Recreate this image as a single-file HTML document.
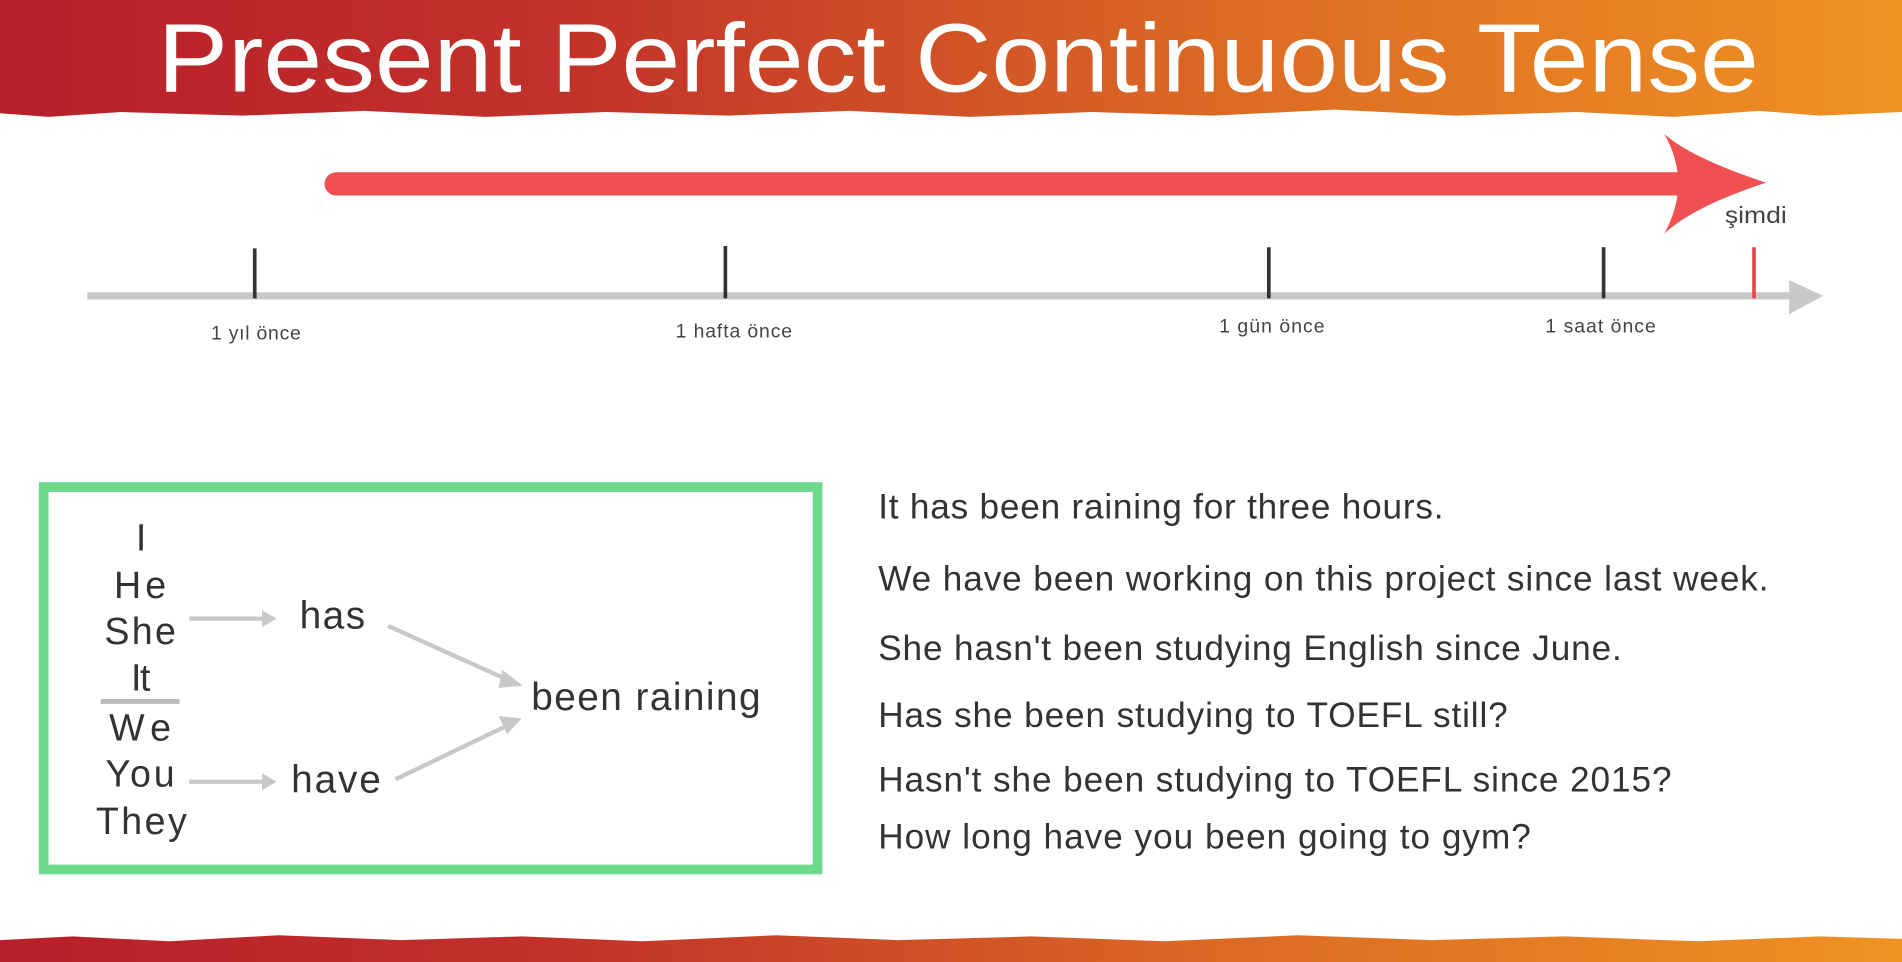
<!DOCTYPE html>
<html><head><meta charset="utf-8"><style>html,body{margin:0;padding:0;background:#fff;overflow:hidden}svg{display:block}</style></head>
<body>
<svg width="1902" height="962" viewBox="0 0 1568 790" preserveAspectRatio="none" xmlns="http://www.w3.org/2000/svg" font-family="Liberation Sans, sans-serif">
<defs>
<linearGradient id="g" x1="0" x2="1" y1="0" y2="0">
<stop offset="0" stop-color="#b81f2a"/><stop offset="0.3" stop-color="#c2322a"/><stop offset="0.65" stop-color="#dc6b24"/><stop offset="1" stop-color="#ef9222"/>
</linearGradient>
</defs>
<rect width="1568" height="790" fill="#fff"/>
<path d="M0 0H1568V92 L1500 95 1450 91 1380 96 1300 92 1200 95 1100 90 1000 95 900 92 800 96 700 91 600 95 500 92 400 96 300 91 200 95 100 92 40 96 0 93Z" fill="url(#g)"/>
<text x="130" y="75" font-size="80" fill="#fff" textLength="1320" lengthAdjust="spacingAndGlyphs">Present Perfect Continuous Tense</text>
<path d="M0 790V772 L60 769 140 773 230 768 330 772 430 769 530 773 640 768 740 772 850 769 960 773 1070 768 1180 772 1290 769 1400 773 1500 769 1568 771V790Z" fill="url(#g)"/>
<line x1="277" y1="151" x2="1385" y2="151" stroke="#ef5152" stroke-width="19" stroke-linecap="round"/>
<path d="M1372 110 Q1395 130 1456 150 Q1395 170 1372 192 Q1395 150 1372 110Z" fill="#ef5152"/>
<text x="1422" y="183" font-size="19" fill="#444" textLength="51" lengthAdjust="spacingAndGlyphs">şimdi</text>
<line x1="72" y1="243" x2="1478" y2="243" stroke="#c8c8c8" stroke-width="6"/>
<path d="M1475 230 L1503 243 1475 258Z" fill="#c8c8c8"/>
<g stroke="#333" stroke-width="3">
<line x1="210" y1="204" x2="210" y2="245"/><line x1="598" y1="202" x2="598" y2="245"/>
<line x1="1046" y1="203" x2="1046" y2="245"/><line x1="1322" y1="203" x2="1322" y2="245"/>
</g>
<line x1="1446" y1="203" x2="1446" y2="245" stroke="#e8474a" stroke-width="3"/>
<g font-size="16" fill="#444" lengthAdjust="spacingAndGlyphs">
<text x="174" y="279" textLength="74">1 yıl önce</text><text x="557" y="277" textLength="96">1 hafta önce</text>
<text x="1005" y="273" textLength="87">1 gün önce</text><text x="1274" y="273" textLength="91">1 saat önce</text>
</g>
<rect x="36" y="400" width="638" height="314" fill="none" stroke="#6dd98a" stroke-width="8"/>
<g font-size="31" fill="#333" lengthAdjust="spacingAndGlyphs">
<text x="112" y="452">I</text><text x="94" y="491" textLength="43">He</text><text x="86" y="529" textLength="59">She</text>
<text x="108" y="567" textLength="16">It</text><text x="90" y="608" textLength="51">We</text><text x="87" y="646" textLength="57">You</text><text x="79" y="685" textLength="75">They</text>
</g>
<line x1="83" y1="576" x2="148" y2="576" stroke="#bbb" stroke-width="4"/>
<g stroke="#c8c8c8" stroke-width="3.5" fill="#c8c8c8">
<line x1="156" y1="508" x2="218" y2="508"/><path d="M216 501 L228 508 216 515Z" stroke="none"/>
<line x1="156" y1="642" x2="218" y2="642"/><path d="M216 635 L228 642 216 649Z" stroke="none"/>
<line x1="320" y1="514" x2="420" y2="559"/><path d="M414 550 L431 563 411 565Z" stroke="none"/>
<line x1="326" y1="640" x2="420" y2="595"/><path d="M411 588 L430 590 418 603Z" stroke="none"/>
</g>
<g font-size="32" fill="#333" lengthAdjust="spacingAndGlyphs">
<text x="247" y="516" textLength="54">has</text><text x="240" y="651" textLength="74">have</text><text x="438" y="583" textLength="189">been raining</text>
</g>
<g font-size="29" fill="#333" lengthAdjust="spacingAndGlyphs">
<text x="724" y="426" textLength="466">It has been raining for three hours.</text>
<text x="724" y="485" textLength="734">We have been working on this project since last week.</text>
<text x="724" y="542" textLength="613">She hasn't been studying English since June.</text>
<text x="724" y="597" textLength="519">Has she been studying to TOEFL still?</text>
<text x="724" y="650" textLength="654">Hasn't she been studying to TOEFL since 2015?</text>
<text x="724" y="697" textLength="538">How long have you been going to gym?</text>
</g>
</svg>
</body></html>
